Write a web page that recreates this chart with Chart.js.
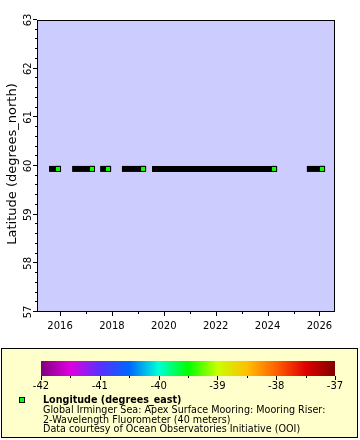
<!DOCTYPE html>
<html>
<head>
<meta charset="utf-8">
<script src="https://cdn.jsdelivr.net/npm/chart.js@4/dist/chart.umd.min.js"></script>
<style>
  html, body { margin: 0; padding: 0; background: #ffffff; }
  #wrap { position: relative; width: 360px; height: 440px; }
  #main { position: absolute; left: 0; top: 0; }
  #cbar { position: absolute; left: 0; top: 348px; }
</style>
</head>
<body>
<div id="wrap">
  <canvas id="main" width="360" height="440"></canvas>
  <canvas id="cbar" width="360" height="50"></canvas>
</div>
<script>
// ---- data ----
const segmentStart = [2015.69, 2016.58, 2017.66, 2018.50, 2019.66, 2025.63];
const segmentEnd   = [2015.92, 2017.23, 2017.85, 2019.20, 2024.25, 2026.10];
const segmentLat   = [59.94, 59.94, 59.94, 59.94, 59.94, 59.94];
const segmentLon   = [-39.47, -39.47, -39.47, -39.47, -39.47, -39.47];
const xRange = [2015.11, 2026.6];
const yRange = [57, 63];
const colorRange = [-42, -37];
const legendTitle = 'Longitude (degrees_east)';
const legendLines = [
  'Global Irminger Sea: Apex Surface Mooring: Mooring Riser:',
  '2-Wavelength Fluorometer (40 meters)',
  'Data courtesy of Ocean Observatories Initiative (OOI)'
];
const yTitle = 'Latitude (degrees_north)';

// ---- palette (style) ----
const paletteValues = [-42, -41.5, -41, -40.5, -40, -39.5, -39, -38.5, -38, -37.5, -37];
const paletteColors = ['#800080', '#e000e0', '#5a30ff', '#0066ff', '#00ffd8', '#00ff00',
                       '#c8ff00', '#ffc000', '#ff6000', '#e00000', '#800000'];

function hexToRgb(h) { return [1, 3, 5].map(i => parseInt(h.substr(i, 2), 16)); }
function paletteColor(v) {
  if (v <= paletteValues[0]) return paletteColors[0];
  for (let i = 1; i < paletteValues.length; i++) {
    if (v <= paletteValues[i]) {
      const t = (v - paletteValues[i - 1]) / (paletteValues[i] - paletteValues[i - 1]);
      const a = hexToRgb(paletteColors[i - 1]), b = hexToRgb(paletteColors[i]);
      const c = a.map((x, k) => Math.round(x + (b[k] - x) * t));
      return 'rgb(' + c.join(',') + ')';
    }
  }
  return paletteColors[paletteColors.length - 1];
}

const FONT = "'DejaVu Sans', 'Liberation Sans', sans-serif";

const datasets = segmentStart.map((s, i) => ({
  data: [{ x: s, y: segmentLat[i] }, { x: segmentEnd[i], y: segmentLat[i] }],
  borderColor: '#000000',
  borderWidth: 6,
  borderCapStyle: 'square',
  tension: 0,
  pointStyle: 'rect',
  pointRadius: [0, 3.6],
  pointBackgroundColor: paletteColor(segmentLon[i]),
  pointBorderColor: '#000000',
  pointBorderWidth: 1
}));

const near = (v, n) => Math.abs(v - n) < 1e-6;

const framePlugin = {
  id: 'frame',
  beforeDraw(chart) {
    const ctx = chart.ctx, a = chart.chartArea;
    ctx.save();
    ctx.fillStyle = '#ffffff';
    ctx.fillRect(0, 0, chart.width, chart.height);
    ctx.fillStyle = '#ccccff';
    ctx.fillRect(a.left, a.top, a.right - a.left, a.bottom - a.top);
    // legend box
    ctx.fillStyle = '#ffffcc';
    ctx.fillRect(1, 348, 357, 90);
    ctx.strokeStyle = '#000000';
    ctx.lineWidth = 1;
    ctx.strokeRect(1.5, 348.5, 356, 89);
    ctx.restore();
  },
  afterDatasetsDraw(chart) {
    const ctx = chart.ctx, a = chart.chartArea;
    const xs = chart.scales.x, ys = chart.scales.y;
    ctx.save();
    ctx.strokeStyle = '#000000';
    ctx.lineWidth = 1;
    ctx.strokeRect(Math.round(a.left) + 0.5, Math.round(a.top) + 0.5,
                   Math.round(a.right - a.left) - 1, Math.round(a.bottom - a.top) - 1);
    ctx.beginPath();
    // x ticks
    for (let yr = Math.ceil(xRange[0]); yr <= xRange[1]; yr++) {
      const px = Math.round(xs.getPixelForValue(yr)) + 0.5;
      const len = yr % 2 === 0 ? 4 : 2;
      ctx.moveTo(px, a.bottom);
      ctx.lineTo(px, a.bottom + len);
    }
    // y ticks
    for (let k = 0; k <= (yRange[1] - yRange[0]) * 5; k++) {
      const v = yRange[0] + k * 0.2;
      const py = Math.round(ys.getPixelForValue(v)) - 0.5;
      const len = k % 5 === 0 ? 4 : 2;
      ctx.moveTo(a.left, py);
      ctx.lineTo(a.left - len, py);
    }
    ctx.stroke();
    // y tick labels (rotated)
    ctx.fillStyle = '#000000';
    ctx.font = '10px ' + FONT;
    ctx.textAlign = 'center';
    ctx.textBaseline = 'middle';
    for (let v = yRange[0]; v <= yRange[1]; v++) {
      const py = ys.getPixelForValue(v);
      ctx.save();
      ctx.translate(28, py);
      ctx.rotate(-Math.PI / 2);
      ctx.fillText(String(v), 0, 0);
      ctx.restore();
    }
    // y title
    ctx.font = '13px ' + FONT;
    ctx.save();
    ctx.translate(13, (a.top + a.bottom) / 2 - 2);
    ctx.rotate(-Math.PI / 2);
    ctx.fillText(yTitle, 0, 0);
    ctx.restore();
    // legend marker and text
    ctx.fillStyle = paletteColor(segmentLon[0]);
    ctx.fillRect(19, 397, 6, 6);
    ctx.strokeRect(19.5, 397.5, 5, 5);
    ctx.fillStyle = '#000000';
    ctx.textAlign = 'left';
    ctx.textBaseline = 'alphabetic';
    ctx.font = 'bold 9.6px ' + FONT;
    ctx.fillText(legendTitle, 43, 403);
    ctx.font = '9.6px ' + FONT;
    legendLines.forEach((t, i) => ctx.fillText(t, 43, 413 + i * 9.5));
    ctx.restore();
  }
};

new Chart(document.getElementById('main'), {
  type: 'line',
  data: { datasets },
  options: {
    responsive: false,
    animation: false,
    events: [],
    layout: { padding: { left: 0, right: 25, top: 20, bottom: 108 } },
    plugins: { legend: { display: false }, tooltip: { enabled: false } },
    scales: {
      x: {
        type: 'linear', min: xRange[0], max: xRange[1],
        grid: { display: false }, border: { display: false },
        ticks: {
          stepSize: 1, autoSkip: false, includeBounds: false, maxRotation: 0, minRotation: 0,
          color: '#000000', font: { family: FONT, size: 10 }, padding: 0,
          callback: v => (near(v, Math.round(v)) && Math.round(v) % 2 === 0) ? String(Math.round(v)) : ''
        },
        afterFit: s => { s.height = 20; }
      },
      y: {
        type: 'linear', min: yRange[0], max: yRange[1],
        grid: { display: false }, border: { display: false },
        ticks: { display: false, stepSize: 1 },
        afterFit: s => { s.width = 37; }
      }
    }
  },
  plugins: [framePlugin]
});

// ---- colour bar ----
const cbTickPlugin = {
  id: 'cbticks',
  afterDatasetsDraw(chart) {
    const ctx = chart.ctx, a = chart.chartArea, xs = chart.scales.x;
    ctx.save();
    ctx.strokeStyle = '#000000';
    ctx.lineWidth = 1;
    ctx.beginPath();
    for (let k = 0; k <= (colorRange[1] - colorRange[0]) * 2; k++) {
      const v = colorRange[0] + k * 0.5;
      const px = Math.round(xs.getPixelForValue(v)) + 0.5;
      const len = k % 2 === 0 ? 4 : 2;
      ctx.moveTo(px, a.bottom);
      ctx.lineTo(px, a.bottom + len);
    }
    ctx.stroke();
    ctx.restore();
  }
};

new Chart(document.getElementById('cbar'), {
  type: 'bar',
  data: {
    labels: ['lon'],
    datasets: [{
      data: [colorRange],
      borderWidth: 0,
      barPercentage: 1,
      categoryPercentage: 1,
      backgroundColor: (c) => {
        const ch = c.chart, a = ch.chartArea;
        if (!a) return paletteColors[0];
        const g = ch.ctx.createLinearGradient(a.left, 0, a.right, 0);
        paletteValues.forEach((v, i) => g.addColorStop((v - colorRange[0]) / (colorRange[1] - colorRange[0]), paletteColors[i]));
        return g;
      }
    }]
  },
  options: {
    indexAxis: 'y',
    responsive: false,
    animation: false,
    events: [],
    layout: { padding: { left: 41, right: 25, top: 13, bottom: 0 } },
    plugins: { legend: { display: false }, tooltip: { enabled: false } },
    scales: {
      x: {
        type: 'linear', min: colorRange[0], max: colorRange[1],
        grid: { display: false, drawTicks: false }, border: { display: false },
        ticks: { stepSize: 1, color: '#000000', font: { family: FONT, size: 10 }, padding: 4, maxRotation: 0 },
        afterFit: s => { s.height = 22; }
      },
      y: { display: false }
    }
  },
  plugins: [cbTickPlugin]
});
</script>
</body>
</html>
